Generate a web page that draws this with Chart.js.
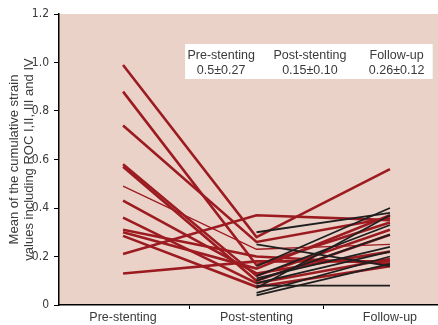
<!DOCTYPE html>
<html>
<head>
<meta charset="utf-8">
<script src="https://cdn.jsdelivr.net/npm/chart.js@4"></script>
<style>
  body { margin: 0; background: #fff; overflow: hidden; }
  #grafico { display: block; }
</style>
</head>
<body>
<canvas id="grafico" width="438" height="325"></canvas>
<script>
// Categorías del eje x
const categorias = ["Pre-stenting", "Post-stenting", "Follow-up"];

// Pacientes en rojo: pre, post y seguimiento
const rojoPre    = [0.99, 0.88, 0.74, 0.58, 0.57, 0.49, 0.43, 0.36, 0.31, 0.30, 0.285, 0.21, 0.13];
const rojoPost   = [0.28, 0.165, 0.26, 0.12, 0.10, 0.23, 0.13, 0.09, 0.20, 0.15, 0.075, 0.37, 0.18];
const rojoFollow = [0.56, 0.34, 0.36, 0.31, 0.29, 0.25, 0.22, 0.19, 0.17, 0.37, 0.16, 0.35, 0.18];

// Pacientes en negro: solo post y seguimiento
const negroPost   = [0.30, 0.25, 0.16, 0.12, 0.10, 0.09, 0.08, 0.07, 0.05, 0.04, 0.11];
const negroFollow = [0.38, 0.16, 0.40, 0.33, 0.29, 0.22, 0.08, 0.37, 0.20, 0.17, 0.24];

// Ticks del eje y
const ticksY = [0, 0.2, 0.4, 0.6, 0.8, 1, 1.2];

// Título del eje y (dos líneas)
const tituloY = ["Mean of the cumulative strain", "values including ROC I,II, III and IV"];

// Recuadro con medias
const recuadroTitulos = ["Pre-stenting", "Post-stenting", "Follow-up"];
const recuadroValores = ["0.5±0.27", "0.15±0.10", "0.26±0.12"];

const fuente = "'Liberation Sans', Arial, sans-serif";
const fuenteEstrecha = "'Liberation Sans Narrow', 'Arial Narrow', 'DejaVu Sans Condensed', sans-serif";
const rojo = "#9c1b21";
const negro = "#1f1f1f";
const gris = "#3a3a3a";

const datasets = [];
// negros primero para que queden encima
negroPost.forEach((v, i) => {
  datasets.push({
    data: [{x: 1, y: v}, {x: 2, y: negroFollow[i]}],
    borderColor: negro,
    borderWidth: 1.8
  });
});
rojoPre.forEach((v, i) => {
  datasets.push({
    data: [{x: 0, y: v}, {x: 1, y: rojoPost[i]}, {x: 2, y: rojoFollow[i]}],
    borderColor: rojo,
    borderWidth: i === 5 ? 1.3 : 2.6
  });
});

// Fondo rosado del área del gráfico
const fondo = {
  id: "fondo",
  beforeDraw(chart) {
    const {ctx, chartArea: a} = chart;
    ctx.save();
    ctx.fillStyle = "#ead2c8";
    ctx.fillRect(a.left, a.top, a.right - a.left, a.bottom - a.top);
    ctx.restore();
  }
};

// Título del eje y dibujado a mano
const titulo = {
  id: "titulo",
  afterDraw(chart) {
    const {ctx, chartArea: a} = chart;
    ctx.save();
    ctx.translate(0, (a.top + a.bottom) / 2);
    ctx.rotate(-Math.PI / 2);
    ctx.fillStyle = gris;
    ctx.font = "13px " + fuente;
    ctx.textAlign = "center";
    ctx.textBaseline = "middle";
    ctx.fillText(tituloY[0], 0, 14.5);
    ctx.fillText(tituloY[1], 0, 29);
    ctx.restore();
  }
};

// Recuadro blanco con los valores medios
const recuadro = {
  id: "recuadro",
  afterDraw(chart) {
    const {ctx, scales: {x, y}} = chart;
    const x0 = x.getPixelForValue(0.465), x1 = x.getPixelForValue(2.32);
    const y0 = y.getPixelForValue(1.076), y1 = y.getPixelForValue(0.932);
    ctx.save();
    ctx.fillStyle = "#fff";
    ctx.fillRect(x0, y0, x1 - x0, y1 - y0);
    ctx.fillStyle = gris;
    ctx.font = "12.5px " + fuente;
    ctx.textAlign = "center";
    ctx.textBaseline = "middle";
    const centros = [0.735, 1.4, 2.05];
    centros.forEach((c, i) => {
      const px = x.getPixelForValue(c);
      ctx.fillText(recuadroTitulos[i], px, y0 + 11);
      ctx.fillText(recuadroValores[i], px, y0 + 26);
    });
    ctx.restore();
  }
};

const ctx = document.getElementById("grafico").getContext("2d");
const chart = new Chart(ctx, {
  type: "line",
  data: { datasets: datasets },
  options: {
    responsive: false,
    animation: false,
    layout: { padding: { top: 14, right: 0, left: 0, bottom: 0 } },
    elements: {
      point: { radius: 0 },
      line: { tension: 0, borderCapStyle: "butt" }
    },
    plugins: {
      legend: { display: false },
      tooltip: { enabled: false }
    },
    scales: {
      x: {
        type: "linear",
        min: -0.48,
        max: 2.36,
        afterBuildTicks: s => { s.ticks = [0, 0.5, 1, 1.5, 2].map(v => ({value: v})); },
        afterFit: s => { s.height = 20; },
        border: { color: "#000", width: 1.5 },
        grid: {
          drawOnChartArea: false,
          tickLength: 4,
          color: c => (c.tick && c.tick.value % 1 !== 0) ? "#000" : "rgba(0,0,0,0)"
        },
        ticks: {
          autoSkip: false,
          maxRotation: 0,
          padding: 1,
          color: gris,
          font: { family: fuente, size: 12.5 },
          callback: v => Number.isInteger(v) ? categorias[v] : ""
        }
      },
      y: {
        min: 0,
        max: 1.2,
        afterBuildTicks: s => { s.ticks = ticksY.map(v => ({value: v})); },
        afterFit: s => { s.width = 59; },
        border: { color: "#000", width: 1.5 },
        grid: { drawOnChartArea: false, tickLength: 5, color: "#000" },
        ticks: {
          padding: 5,
          color: gris,
          font: { family: fuenteEstrecha, size: 12 }
        }
      }
    }
  },
  plugins: [fondo, titulo, recuadro]
});
</script>
</body>
</html>
